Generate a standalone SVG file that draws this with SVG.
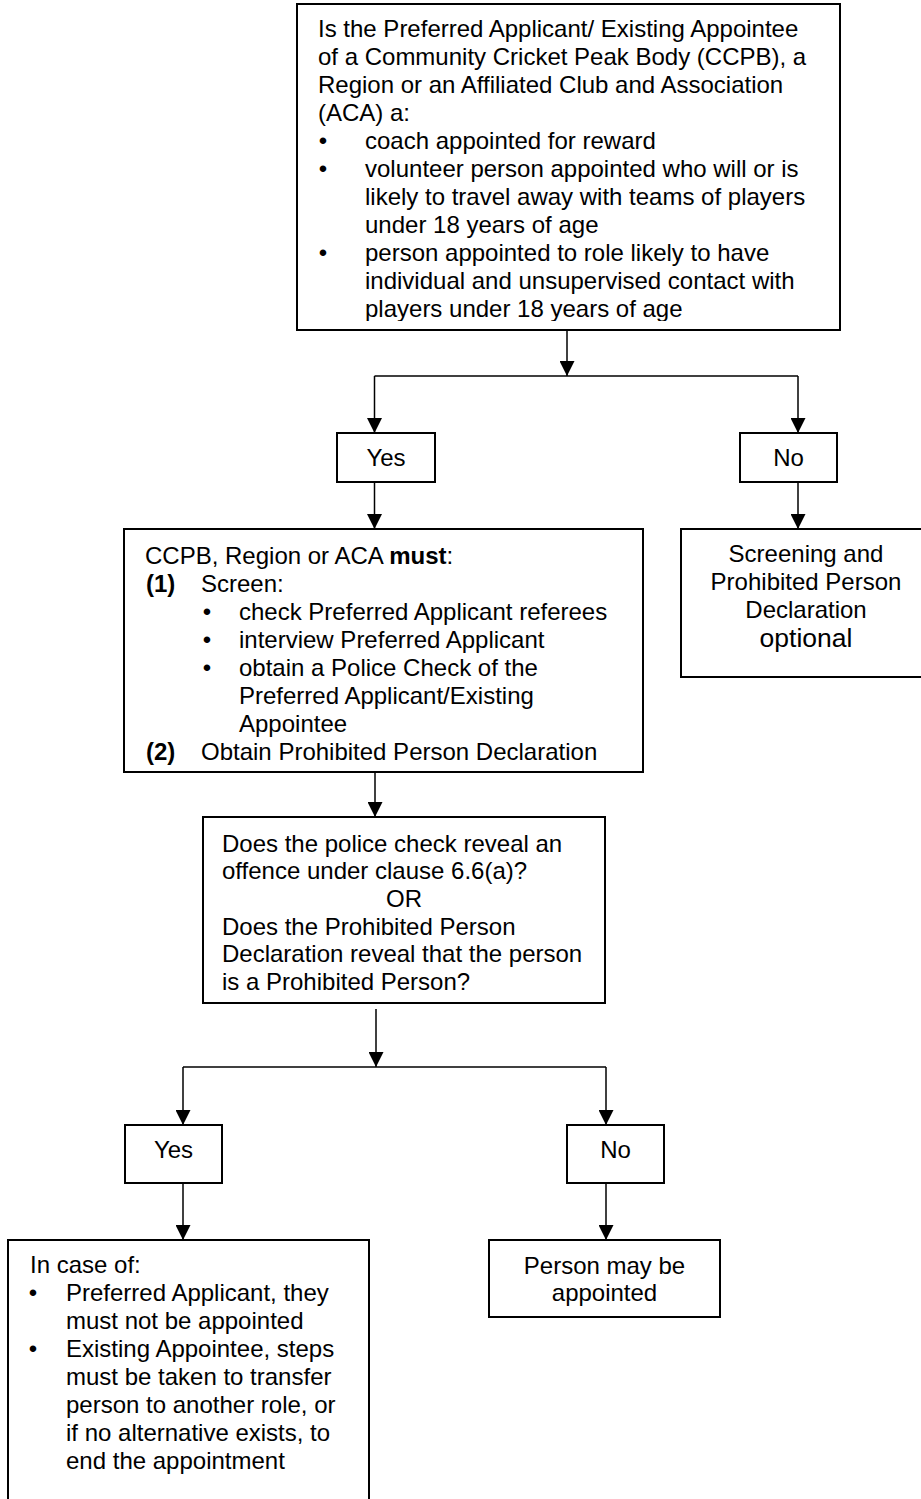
<svg xmlns="http://www.w3.org/2000/svg" width="921" height="1499" viewBox="0 0 921 1499">
<defs>
<marker id="arr" markerUnits="userSpaceOnUse" markerWidth="15" markerHeight="15" refX="15" refY="7.5" orient="auto" viewBox="0 0 15 15"><path d="M0,0 L15,7.5 L0,15 z" fill="#000"/></marker>
<clipPath id="topclip"><rect x="297" y="4" width="545" height="317"/></clipPath>
</defs>
<style>
.box{fill:#fff;stroke:#000;stroke-width:2}
.t{font-family:"Liberation Sans",Arial,sans-serif;font-size:24px;fill:#000}
.c{text-anchor:middle}
.b{font-weight:bold}
.ln{fill:none;stroke:#000;stroke-width:1.5}
.ar{marker-end:url(#arr)}
</style>
<rect width="921" height="1499" fill="#fff"/>

<g id="connectors">
<path class="ln ar" d="M567,330 V376"/>
<path class="ln" d="M374.5,376 H798"/>
<path class="ln ar" d="M374.5,376 V433"/>
<path class="ln ar" d="M798,376 V433"/>
<path class="ln ar" d="M374.5,482 V529"/>
<path class="ln ar" d="M798,482 V529"/>
<path class="ln ar" d="M375,772 V817"/>
<path class="ln ar" d="M376,1009 V1067"/>
<path class="ln" d="M183,1067 H606"/>
<path class="ln ar" d="M183,1067 V1125"/>
<path class="ln ar" d="M606,1067 V1125"/>
<path class="ln ar" d="M183,1183 V1240"/>
<path class="ln ar" d="M606,1183 V1240"/>
</g>

<g id="question1">
<rect class="box" x="297" y="4" width="543" height="326"/>
<g class="t" clip-path="url(#topclip)">
<text x="318" y="37">Is the Preferred Applicant/ Existing Appointee</text>
<text x="318" y="65">of a Community Cricket Peak Body (CCPB), a</text>
<text x="318" y="93">Region or an Affiliated Club and Association</text>
<text x="318" y="121">(ACA) a:</text>
<text class="c" x="323" y="149">•</text>
<text x="365" y="149">coach appointed for reward</text>
<text class="c" x="323" y="177">•</text>
<text x="365" y="177">volunteer person appointed who will or is</text>
<text x="365" y="205">likely to travel away with teams of players</text>
<text x="365" y="233">under 18 years of age</text>
<text class="c" x="323" y="261">•</text>
<text x="365" y="261">person appointed to role likely to have</text>
<text x="365" y="289">individual and unsupervised contact with</text>
<text x="365" y="317">players under 18 years of age</text>
</g>
</g>

<g id="yes1">
<rect class="box" x="337" y="433" width="98" height="49"/>
<text class="t c" x="386" y="466">Yes</text>
</g>

<g id="no1">
<rect class="box" x="740" y="433" width="97" height="49"/>
<text class="t c" x="788.5" y="466">No</text>
</g>

<g id="must">
<rect class="box" x="124" y="529" width="519" height="243"/>
<g class="t">
<text x="145" y="564">CCPB, Region or ACA <tspan class="b">must</tspan>:</text>
<text class="b" x="146" y="592">(1)</text>
<text x="201" y="592">Screen:</text>
<text class="c" x="207" y="620">•</text>
<text x="239" y="620">check Preferred Applicant referees</text>
<text class="c" x="207" y="648">•</text>
<text x="239" y="648">interview Preferred Applicant</text>
<text class="c" x="207" y="676">•</text>
<text x="239" y="676">obtain a Police Check of the</text>
<text x="239" y="704">Preferred Applicant/Existing</text>
<text x="239" y="732">Appointee</text>
<text class="b" x="146" y="760">(2)</text>
<text x="201" y="760">Obtain Prohibited Person Declaration</text>
</g>
</g>

<g id="optional">
<rect class="box" x="681" y="529" width="249" height="148"/>
<g class="t c">
<text x="806" y="562">Screening and</text>
<text x="806" y="590">Prohibited Person</text>
<text x="806" y="618">Declaration</text>
<text x="806" y="647" style="font-size:26.5px">optional</text>
</g>
</g>

<g id="question2">
<rect class="box" x="203" y="817" width="402" height="186"/>
<g class="t">
<text x="222" y="851.5">Does the police check reveal an</text>
<text x="222" y="879">offence under clause 6.6(a)?</text>
<text class="c" x="404" y="907">OR</text>
<text x="222" y="934.5">Does the Prohibited Person</text>
<text x="222" y="962">Declaration reveal that the person</text>
<text x="222" y="990">is a Prohibited Person?</text>
</g>
</g>

<g id="yes2">
<rect class="box" x="125" y="1125" width="97" height="58"/>
<text class="t c" x="173.5" y="1158">Yes</text>
</g>

<g id="no2">
<rect class="box" x="567" y="1125" width="97" height="58"/>
<text class="t c" x="615.5" y="1158">No</text>
</g>

<g id="notappointed">
<rect class="box" x="8" y="1240" width="361" height="270"/>
<g class="t">
<text x="30" y="1273">In case of:</text>
<text class="c" x="33" y="1301">•</text>
<text x="66" y="1301">Preferred Applicant, they</text>
<text x="66" y="1329">must not be appointed</text>
<text class="c" x="33" y="1357">•</text>
<text x="66" y="1357">Existing Appointee, steps</text>
<text x="66" y="1385">must be taken to transfer</text>
<text x="66" y="1413">person to another role, or</text>
<text x="66" y="1441">if no alternative exists, to</text>
<text x="66" y="1469">end the appointment</text>
</g>
</g>

<g id="appointed">
<rect class="box" x="489" y="1240" width="231" height="77"/>
<g class="t c">
<text x="604.5" y="1274">Person may be</text>
<text x="604.5" y="1301">appointed</text>
</g>
</g>
</svg>
